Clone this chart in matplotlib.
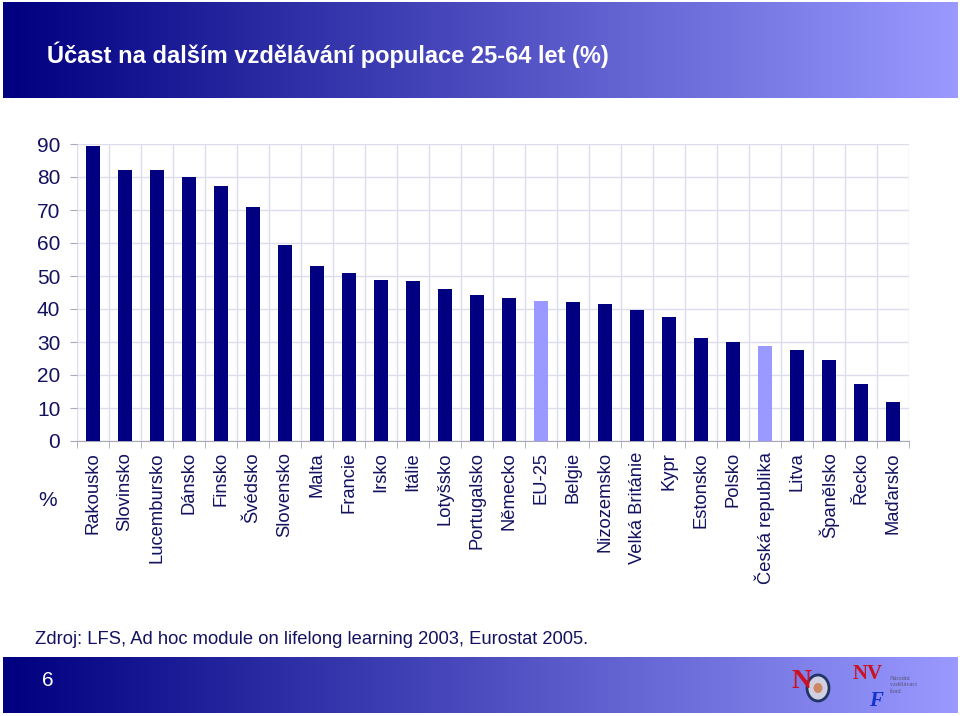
import numpy as np
import matplotlib
matplotlib.use("Agg")
import matplotlib.pyplot as plt
from matplotlib import font_manager
from matplotlib.patches import Ellipse

# data
countries = ["Rakousko", "Slovinsko", "Lucembursko", "Dánsko", "Finsko", "Švédsko",
             "Slovensko", "Malta", "Francie", "Irsko", "Itálie", "Lotyšsko",
             "Portugalsko", "Německo", "EU-25", "Belgie", "Nizozemsko",
             "Velká Británie", "Kypr", "Estonsko", "Polsko", "Česká republika",
             "Litva", "Španělsko", "Řecko", "Maďarsko"]
values = [89.3, 82.0, 82.0, 79.9, 77.3, 70.9, 59.5, 53.1, 51.0, 48.7, 48.4, 46.2,
          44.2, 43.2, 42.4, 42.0, 41.6, 39.8, 37.7, 31.3, 30.0, 28.8, 27.5, 24.6,
          17.3, 11.7]
highlight = ["EU-25", "Česká republika"]
yticks = [0, 10, 20, 30, 40, 50, 60, 70, 80, 90]

title = "Účast na dalším vzdělávání populace 25-64 let (%)"
source = "Zdroj: LFS, Ad hoc module on lifelong learning 2003, Eurostat 2005."

# narrow Arial-like face if present
names = {f.name for f in font_manager.fontManager.ttflist}
fam = ["Liberation Sans Narrow"] if "Liberation Sans Narrow" in names else []
fam += ["Liberation Sans", "DejaVu Sans"]
plt.rcParams["font.family"] = fam

navy = "#000080"
light = "#9999ff"
txt = "#121260"

fig = plt.figure(figsize=(9.6, 7.16), dpi=100)

# gradient bands (header + footer)
grad = np.linspace(0, 1, 256).reshape(1, -1)
cmap = matplotlib.colors.LinearSegmentedColormap.from_list("band", [navy, light])
W, H = 960, 716
for (y0, y1) in [(2, 98), (657, 713)]:
    bax = fig.add_axes([3 / W, 1 - y1 / H, 954 / W, (y1 - y0) / H])
    bax.imshow(grad, aspect="auto", cmap=cmap, extent=[0, 1, 0, 1])
    bax.axis("off")

fig.text(47 / W, 1 - 55 / H, title, color="white", fontsize=17, fontweight="bold",
         va="center", ha="left")
fig.text(35 / W, 1 - 640 / H, source, color=txt, fontsize=13.2, va="center", ha="left")
fig.text(48 / W, 1 - 681 / H, "6", color="white", fontsize=15, va="center", ha="center")

# logos (rough)
lax = fig.add_axes([790 / W, 1 - 712 / H, 140 / W, 52 / H])
lax.set_xlim(0, 140)
lax.set_ylim(0, 52)
lax.axis("off")
lax.text(12, 30, "N", color="#cc1122", fontsize=20, fontweight="bold",
         family="Liberation Serif", ha="center", va="center")
lax.add_patch(Ellipse((28, 24), 22, 26, facecolor="#d0d0e0", edgecolor="#223366", lw=2))
lax.add_patch(Ellipse((28, 24), 9, 10, facecolor="#cc8866", edgecolor="none"))
lax.text(78, 38, "NV", color="#cc1122", fontsize=15, fontweight="bold",
         family="Liberation Serif", ha="center", va="center")
lax.text(86, 11, "F", color="#1133cc", fontsize=15, fontweight="bold", style="italic",
         family="Liberation Serif", ha="center", va="center")
lax.text(100, 27, "Národní\nvzdělávací\nfond", color="#555577", fontsize=4.5,
         family="Liberation Serif", ha="left", va="center", linespacing=1.3)

# bar chart
ax = fig.add_axes([77 / W, 1 - 441 / H, 832 / W, 297 / H])
x = np.arange(len(countries))
colors = [light if c in highlight else navy for c in countries]
ax.bar(x, values, width=0.44, color=colors, zorder=3)

ax.set_xlim(-0.5, len(countries) - 0.5)
ax.set_ylim(0, 90)
ax.set_yticks(yticks)
ax.set_xticks(x)
ax.set_xticklabels(countries, rotation=90, fontsize=13.2, color=txt)
ax.set_xticks(np.arange(-0.5, len(countries), 1), minor=True)

ax.tick_params(axis="x", which="major", length=0, pad=8)
ax.tick_params(axis="x", which="minor", length=5, color="#a8a8b8", direction="out")
ax.tick_params(axis="y", length=5, color="#a8a8b8", labelsize=15, labelcolor=txt, pad=7)

ax.grid(True, axis="y", color="#dcdcee", lw=1, zorder=0)
ax.grid(True, axis="x", which="minor", color="#dcdcee", lw=1, zorder=0)
ax.grid(False, axis="x", which="major")
for s in ["top", "right", "left"]:
    ax.spines[s].set_visible(False)
ax.spines["bottom"].set_color("#a8a8b8")

fig.text(48 / W, 1 - 500 / H, "%", color=txt, fontsize=15, ha="center", va="center")

fig.savefig("out.png", dpi=100)
